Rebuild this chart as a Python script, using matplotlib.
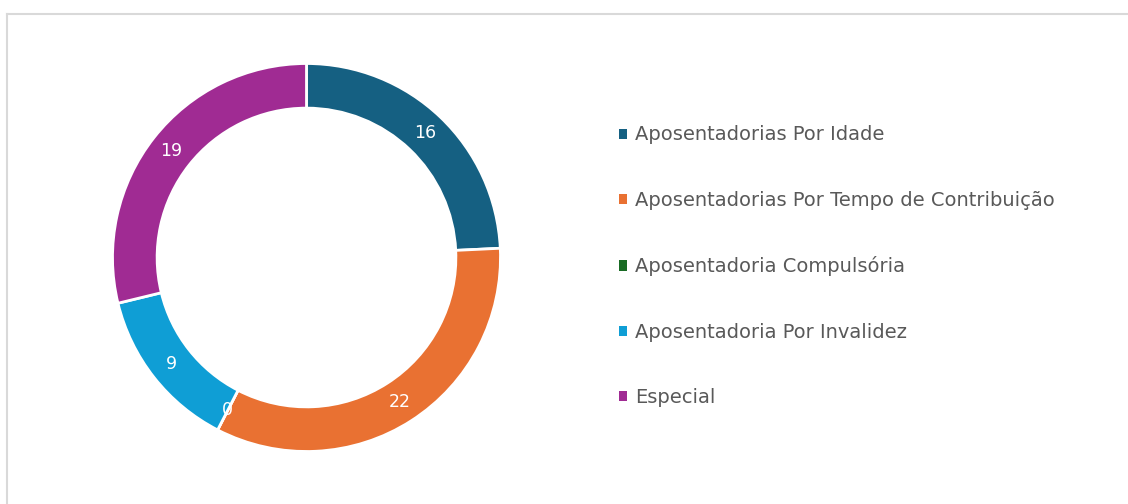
import matplotlib.pyplot as plt
from matplotlib.patches import Patch
from matplotlib.lines import Line2D

# dados do grafico
categorias = ['Aposentadorias Por Idade',
              'Aposentadorias Por Tempo de Contribuição',
              'Aposentadoria Compulsória',
              'Aposentadoria Por Invalidez',
              'Especial']
valores = [16, 22, 0, 9, 19]
cores = ['#156082', '#E97132', '#196B24', '#0F9ED5', '#A02B93']

W, H = 1128, 504
fig = plt.figure(figsize=(W / 100, H / 100), dpi=100)

# moldura cinza (topo e esquerda)
fig.add_artist(Line2D([7 / W, 7 / W], [0, 1 - 14 / H], color='#d9d9d9', lw=1.5))
fig.add_artist(Line2D([7 / W, 1], [1 - 14 / H, 1 - 14 / H], color='#d9d9d9', lw=1.5))

cx, cy, r = 306.5, 257.5, 194
ax = fig.add_axes([(cx - r) / W, (H - cy - r) / H, 2 * r / W, 2 * r / H])

wedges, textos, autotextos = ax.pie(
    valores, colors=cores, startangle=90, counterclock=False, radius=1,
    wedgeprops=dict(width=0.23, edgecolor='white', linewidth=2),
    autopct=lambda p: '%d' % round(p * sum(valores) / 100),
    pctdistance=0.885, textprops=dict(color='white', fontsize=12.5))
ax.set_xlim(-1, 1)
ax.set_ylim(-1, 1)
ax.set_aspect('equal')
ax.axis('off')

handles = [Patch(facecolor=c, edgecolor='none') for c in cores]
fig.legend(handles, categorias, loc='upper left',
           bbox_to_anchor=(601 / W, 1 - 108 / H), frameon=False,
           fontsize=14, labelcolor='#595959', handlelength=0.42,
           handleheight=0.42, handletextpad=0.45, labelspacing=2.39)

fig.savefig('out.png', dpi=100)
